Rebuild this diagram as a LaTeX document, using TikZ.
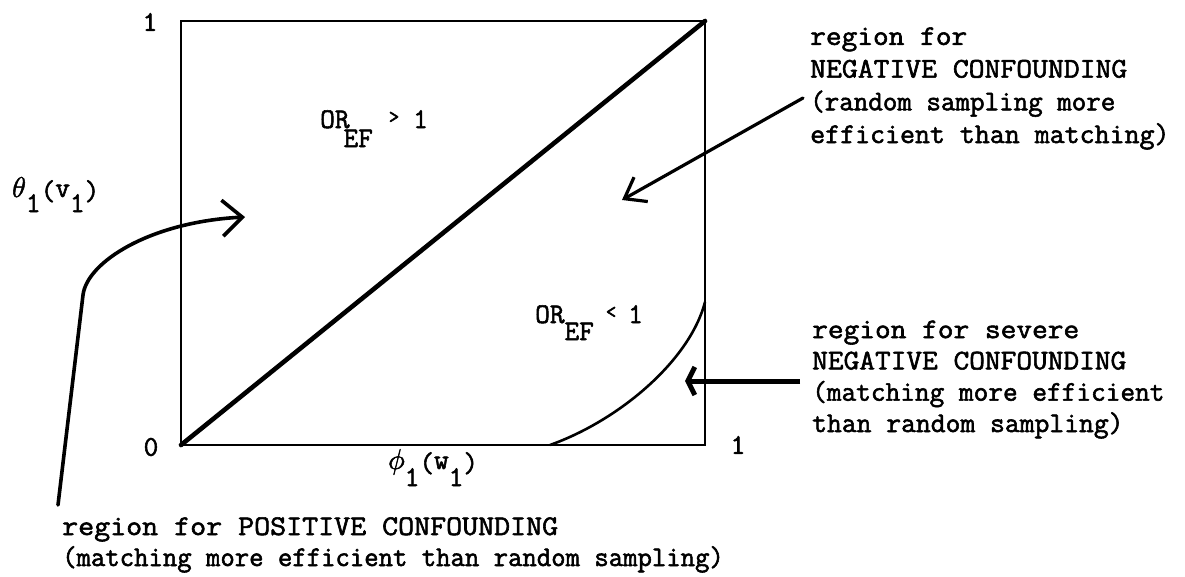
\documentclass[tikz,border=0pt]{standalone}
\usepackage{fix-cm}
\usepackage{graphicx}
\usepackage{fontspec}
\usetikzlibrary{arrows.meta}
\newcommand\inked{\special{pdf:literal direct 2 Tr 0.55 w}}
\newcommand\hstretch[2]{\scalebox{#1}[1]{#2}}
\tikzset{
  frame/.style={line width=1.8pt},
  diag/.style={line width=4.6pt, line cap=round},
  bound/.style={line width=2.6pt},
  pointer/.style={line width=3.6pt, line cap=round, line join=round},
  lbl/.style={font=\ttfamily\fontsize{28.5}{32}\selectfont\inked, inner sep=0pt},
  note/.style={font=\ttfamily\fontsize{28.5}{32.7}\selectfont\inked, inner sep=0pt, align=left, anchor=base west},
}
\begin{document}
\begin{tikzpicture}[x=1pt, y=-1pt]
\useasboundingbox (0,0) rectangle (1185,576);
% square
\coordinate (O) at (181,445);
\coordinate (T) at (705,21);
\draw[frame] (O) rectangle (T);
\draw[diag] (O) -- (T);
\coordinate (c0) at (550,445);
\coordinate (c1) at (705,302);
\draw[bound] (c0) .. controls (620,420) and (690,360) .. (c1);
% axis labels
\node[lbl] (onetop) at (150,22) {1};
\node[lbl] (zero) at (151,447) {0};
\node[lbl] (oneright) at (738,445) {1};
\node[lbl, anchor=base west] (theta) at (12,200) {\raisebox{3pt}{$\theta$}\raisebox{-12pt}{1}(\raisebox{3pt}{v}\raisebox{-12pt}{1})};
\node[lbl, anchor=base west] (phi) at (388,472) {\raisebox{3pt}{$\phi$}\raisebox{-14pt}{1}(\raisebox{3pt}{w}\raisebox{-14pt}{1})};
% OR labels
\node[lbl, anchor=base west] (orgt) at (320,128) {OR\hspace{-6pt}\raisebox{-19pt}{EF}\hspace{16pt}\raisebox{5pt}{\fontsize{20}{20}\selectfont >}\hspace{14pt}1};
\node[lbl, anchor=base west] (orlt) at (535,323) {OR\hspace{0pt}\raisebox{-17pt}{EF}\hspace{12pt}\raisebox{5pt}{\fontsize{20}{20}\selectfont <}\hspace{12pt}1};
% arrows
\coordinate (p0) at (58,505);
\coordinate (p1) at (83,295);
\coordinate (ptip) at (245,217);
\draw[pointer, -{Straight Barb[length=20pt,width=36pt]}] (p0) -- (p1) .. controls (87,262) and (150,222) .. (ptip);
\coordinate (n0) at (803,98);
\coordinate (ntip) at (622,200);
\draw[pointer, line width=3.2pt, -{Straight Barb[length=19pt,width=28pt]}] (n0) -- (ntip);
\coordinate (s0) at (800,381);
\coordinate (stip) at (685,381);
\draw[pointer, line width=5pt, line cap=butt, -{Straight Barb[length=7pt,width=28pt]}] (s0) -- (stip);
% notes
\node[note] (negtxt) at (810,143) {\hstretch{1.07}{region for}\\\hstretch{1.08}{NEGATIVE CONFOUNDING}\\\hstretch{0.99}{(random sampling more}\\\hstretch{1.02}{efficient than matching)}};
\node[note, font=\ttfamily\fontsize{28.5}{31.3}\selectfont\inked] (sevtxt) at (812,432) {\hstretch{1.07}{region for severe}\\\hstretch{1.07}{NEGATIVE CONFOUNDING}\\(matching more efficient\\\hstretch{1.01}{than random sampling)}};
\node[note, font=\ttfamily\fontsize{28.5}{31}\selectfont\inked] (postxt) at (62,566) {\hstretch{1.09}{region for POSITIVE CONFOUNDING}\\\hstretch{0.98}{(matching more efficient than random sampling)}};
\end{tikzpicture}
\end{document}
